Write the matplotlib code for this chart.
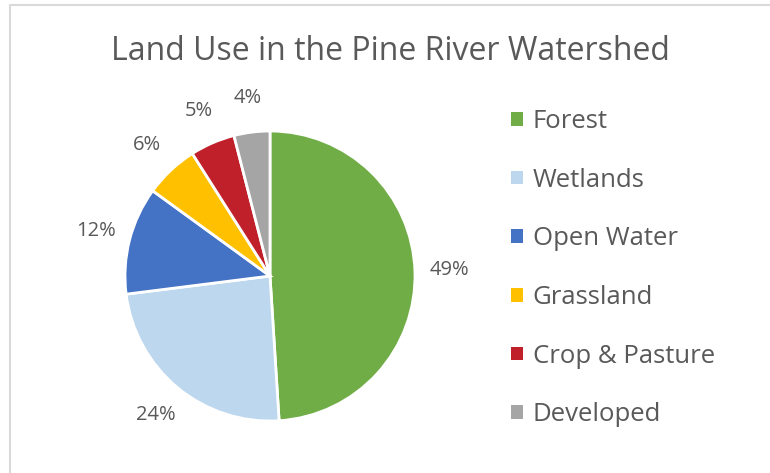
import matplotlib
matplotlib.use("Agg")
import matplotlib.pyplot as plt
from matplotlib.lines import Line2D
from matplotlib.patches import Patch

categories = ["Forest", "Wetlands", "Open Water", "Grassland", "Crop & Pasture", "Developed"]
shares = [49, 24, 12, 6, 5, 4]
colors = ["#70AD47", "#BDD7EE", "#4472C4", "#FFC000", "#C0202A", "#A5A5A5"]
title = "Land Use in the Pine River Watershed"

text_color = "#595959"
plt.rcParams['font.family'] = ['Open Sans', 'DejaVu Sans']

W, H = 770, 473
fig = plt.figure(figsize=(W / 100, H / 100), dpi=100)

# chart border (only top and left edges visible in the crop)
fig.add_artist(Line2D([10 / W, 10 / W, 1.0], [0.0, 1 - 5 / H, 1 - 5 / H],
                      transform=fig.transFigure, color="#D9D9D9", lw=1.5))

ax = fig.add_axes([125 / W, 52 / H, 290 / W, 290 / H])
wedges, texts = ax.pie(shares, colors=colors, startangle=90, counterclock=False,
                       labels=[f"{v}%" for v in shares], labeldistance=1.24,
                       wedgeprops=dict(edgecolor="white", linewidth=2),
                       textprops=dict(color=text_color, fontsize=14.5))
for t in texts:
    t.set_horizontalalignment("center")
    t.set_verticalalignment("center")
    t.set_clip_on(False)
ax.set_xlim(-1, 1)
ax.set_ylim(-1, 1)
ax.set_aspect("equal")

fig.text(390 / W, 1 - 51 / H, title, ha="center", va="center",
         fontsize=23, color=text_color)

handles = [Patch(facecolor=c, edgecolor="none") for c in colors]
leg = fig.legend(handles, categories, loc="upper left",
                 bbox_to_anchor=(511 / W, 1 - 109 / H), frameon=False,
                 borderpad=0, borderaxespad=0,
                 fontsize=18.5, labelcolor=text_color, handlelength=0.45,
                 handleheight=0.45, handletextpad=0.4, labelspacing=1.31)

fig.savefig("out.png", dpi=100)
